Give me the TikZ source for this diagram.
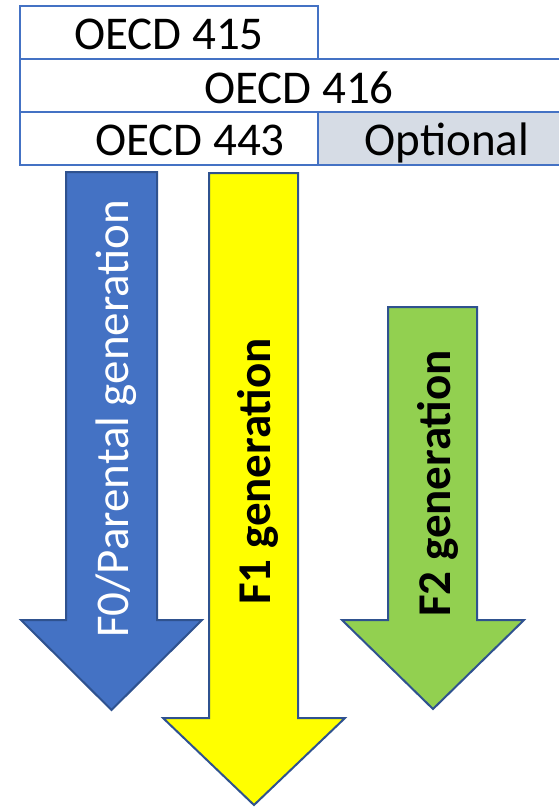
\documentclass[tikz,border=0pt]{standalone}
\usepackage{fontspec}
\setmainfont{Carlito}
\definecolor{boxblue}{HTML}{4472C4}
\definecolor{optgray}{HTML}{D6DCE5}
\definecolor{arrowline}{HTML}{2F528F}
\definecolor{fzero}{HTML}{4472C4}
\definecolor{fone}{HTML}{FFFF00}
\definecolor{ftwo}{HTML}{92D050}
\tikzset{
  rowbox/.style={draw=boxblue, line width=2bp, fill=white, rectangle, inner sep=0pt,
    minimum height=53bp, text height=44bp, text depth=9bp,
    font=\fontsize{47bp}{56bp}\selectfont},
  genarrow/.style={draw=arrowline, line width=2bp, line join=miter},
  gentext/.style={rotate=90, anchor=base west, inner sep=0pt,
    font=\fontsize{47bp}{56bp}\selectfont}
}
\begin{document}
\begin{tikzpicture}[x=1bp, y=-1bp]
\useasboundingbox (0,0) rectangle (559,808);
\clip (0,0) rectangle (559,808);
% test boxes
\node[rowbox, minimum width=298bp] (r415) at (169,32.5) {OECD 415};
\node[rowbox, minimum width=558bp] (r416) at (299,85.5) {OECD 416};
\node[rowbox, minimum width=340bp] (r443) at (190,138) {OECD 443};
\node[rowbox, fill=optgray, minimum width=258bp] (ropt) at (447,138) {Optional};
% arrows
\draw[genarrow, fill=fzero] (66,172) -- (157,172) -- (157,620) -- (202,620) -- (111.5,710)
  -- (21,620) -- (66,620) -- cycle;
\draw[genarrow, fill=fone] (209,173) -- (298,173) -- (298,718) -- (345,718) -- (254,805)
  -- (163,718) -- (209,718) -- cycle;
\draw[genarrow, fill=ftwo] (388,307) -- (477,307) -- (477,620) -- (524,620) -- (433,709)
  -- (342,620) -- (388,620) -- cycle;
% labels
\node[gentext, text=white] (tf0) at (128,638) {F0/Parental generation};
\node[gentext, font=\fontsize{47bp}{56bp}\selectfont\bfseries] (tf1) at (270,605) {F1 generation};
\node[gentext, font=\fontsize{47bp}{56bp}\selectfont\bfseries] (tf2) at (450,617) {F2 generation};
\end{tikzpicture}
\end{document}
